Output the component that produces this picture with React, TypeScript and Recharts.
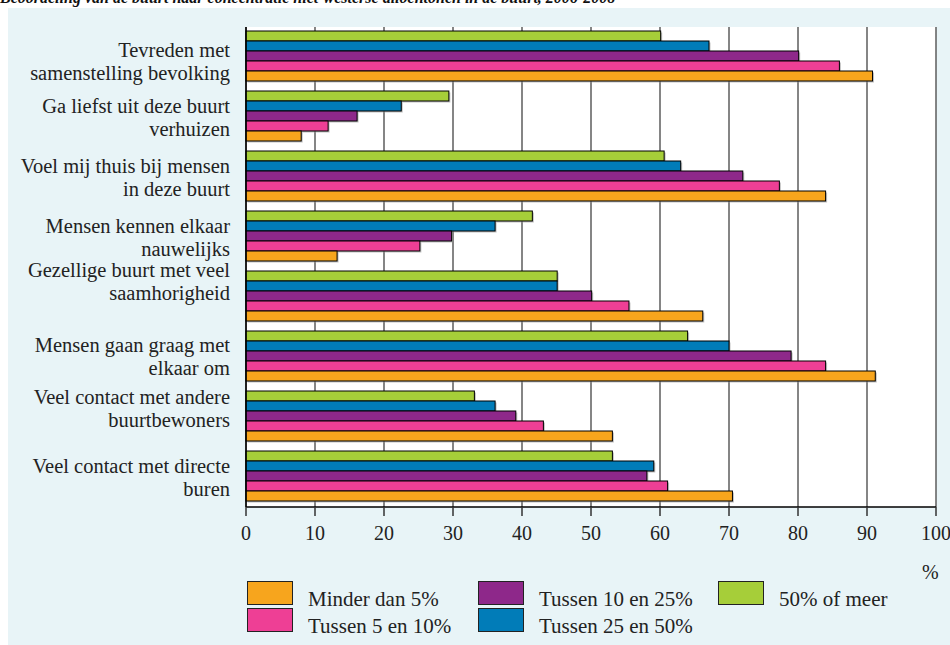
import { BarChart, Bar, XAxis, YAxis, CartesianGrid } from 'recharts';

const categories = [
  'Tevreden met\nsamenstelling bevolking',
  'Ga liefst uit deze buurt\nverhuizen',
  'Voel mij thuis bij mensen\nin deze buurt',
  'Mensen kennen elkaar\nnauwelijks',
  'Gezellige buurt met veel\nsaamhorigheid',
  'Mensen gaan graag met\nelkaar om',
  'Veel contact met andere\nbuurtbewoners',
  'Veel contact met directe\nburen',
];

const minderDan5 = [90.8, 8.0, 84.0, 13.2, 66.2, 91.2, 53.1, 70.5];
const tussen5en10 = [86.0, 11.9, 77.3, 25.2, 55.5, 84.0, 43.1, 61.1];
const tussen10en25 = [80.1, 16.1, 72.0, 29.8, 50.1, 79.0, 39.1, 58.1];
const tussen25en50 = [67.1, 22.5, 63.0, 36.1, 45.1, 70.0, 36.1, 59.1];
const vijftigOfMeer = [60.1, 29.4, 60.6, 41.5, 45.1, 64.0, 33.1, 53.1];

const xTicks = [0, 10, 20, 30, 40, 50, 60, 70, 80, 90, 100];

// label nudges so the text sits where the original puts it
const labelNudge = [4, 0, 0, 0, -16, -1, -9, 0];
const legendCols = [247, 478, 718];

const FONT = '"Liberation Serif", "Times New Roman", serif';

const data = categories.map((name, i) => ({
  name,
  a: minderDan5[i],
  b: tussen5en10[i],
  c: tussen10en25[i],
  d: tussen25en50[i],
  e: vijftigOfMeer[i],
}));

// top to bottom inside a group
const series = [
  { key: 'e', label: '50% of meer', color: '#A6CE39' },
  { key: 'd', label: 'Tussen 25 en 50%', color: '#017CB8' },
  { key: 'c', label: 'Tussen 10 en 25%', color: '#8E288A' },
  { key: 'b', label: 'Tussen 5 en 10%', color: '#EE3F95' },
  { key: 'a', label: 'Minder dan 5%', color: '#F7A51D' },
];

const legendOrder = ['a', 'b', 'c', 'd', 'e'];

const ShadowBar = (props: any) => {
  const { x, y, width, height, fill } = props;
  if (!width || width <= 0) return null;
  return (
    <g>
      <rect x={x + 1.5} y={y + 1.5} width={width} height={height} fill="#999" opacity={0.6} />
      <rect x={x} y={y} width={width} height={height} fill={fill} stroke="#000" strokeWidth={1} />
    </g>
  );
};

const CategoryTick = (props: any) => {
  const { x, y, payload, index } = props;
  const lines = String(payload.value).split('\n');
  const lh = 23;
  const start = -((lines.length - 1) * lh) / 2 + (labelNudge[index] || 0);
  return (
    <g>
      {lines.map((l, i) => (
        <text
          key={i}
          x={x - 8}
          y={y + start + i * lh}
          dy="0.35em"
          textAnchor="end"
          fontFamily={FONT}
          fontSize={20.5}
          fill="#222"
        >
          {l}
        </text>
      ))}
    </g>
  );
};

const App = () => {
  return (
    <div style={{ position: 'fixed', left: 0, top: 0, width: 950, height: 645, overflow: 'hidden', background: '#fff' }}>
      <div
        style={{
          position: 'absolute',
          left: 0,
          top: -11,
          fontFamily: FONT,
          fontWeight: 'bold',
          fontStyle: 'italic',
          fontSize: 16,
          color: '#111',
          whiteSpace: 'nowrap',
        }}
      >
        Beoordeling van de buurt naar concentratie niet-westerse allochtonen in de buurt, 2006-2008
      </div>
      <div style={{ position: 'absolute', left: 8, top: 8, width: 942, height: 637, background: '#E8F4F7' }} />
      <div style={{ position: 'absolute', left: 0, top: 0 }}>
        <BarChart
          width={950}
          height={645}
          data={data}
          layout="vertical"
          margin={{ top: 27, right: 14, bottom: 108, left: 0 }}
          barCategoryGap={4}
          barGap={0}
        >
          <CartesianGrid horizontal={false} stroke="#5c5c5c" strokeWidth={1.5} fill="#fff" />
          <XAxis
            type="number"
            domain={[0, 100]}
            ticks={xTicks}
            interval={0}
            axisLine={{ stroke: '#000', strokeWidth: 1.5 }}
            tickLine={{ stroke: '#333', strokeWidth: 1.5 }}
            tickSize={9}
            height={30}
            tick={{ fontFamily: FONT, fontSize: 20, fill: '#222', dy: 8 }}
          />
          <XAxis
            xAxisId="top"
            orientation="top"
            type="number"
            domain={[0, 100]}
            axisLine={{ stroke: '#000', strokeWidth: 1.5 }}
            tick={false}
            tickLine={false}
            height={0}
          />
          <YAxis
            type="category"
            dataKey="name"
            width={246}
            axisLine={{ stroke: '#000', strokeWidth: 1.5 }}
            tickLine={false}
            tick={<CategoryTick />}
            interval={0}
          />
          {series.map((s) => (
            <Bar
              key={s.key}
              dataKey={s.key}
              fill={s.color}
              shape={<ShadowBar />}
              isAnimationActive={false}
            />
          ))}
        </BarChart>
      </div>
      <div style={{ position: 'absolute', left: 922, top: 561, fontFamily: FONT, fontSize: 20, color: '#222' }}>%</div>
      {legendOrder.map((k, i) => {
        const s = series.find((x) => x.key === k)!;
        const col = Math.floor(i / 2);
        const row = i % 2;
        const left = legendCols[col];
        const top = 581 + row * 27;
        return (
          <div key={k}>
            <div
              style={{
                position: 'absolute',
                left,
                top,
                width: 44,
                height: 22,
                background: s.color,
                border: '1px solid #222',
              }}
            />
            <div
              style={{
                position: 'absolute',
                left: left + 61,
                top: top + 6,
                fontFamily: FONT,
                fontSize: 21,
                color: '#222',
                whiteSpace: 'nowrap',
              }}
            >
              {s.label}
            </div>
          </div>
        );
      })}
    </div>
  );
};

export default App;
